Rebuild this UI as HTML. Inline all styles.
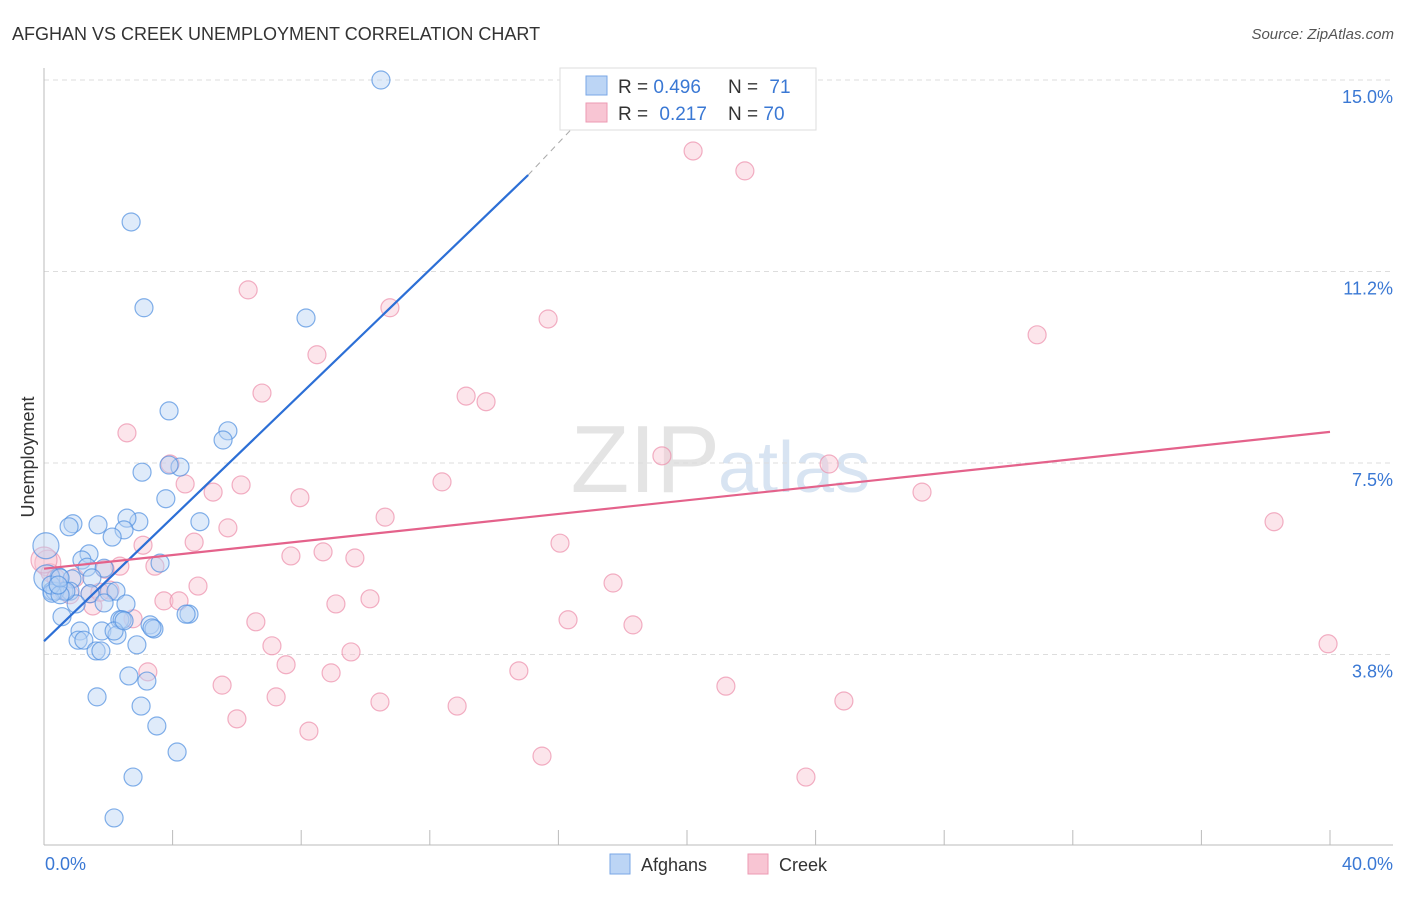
<!DOCTYPE html>
<html><head><meta charset="utf-8">
<style>
body{margin:0;background:#fff;font-family:"Liberation Sans",sans-serif;}
svg text{font-family:"Liberation Sans",sans-serif;}
</style></head>
<body>
<svg id="chart" width="1406" height="892" xmlns="http://www.w3.org/2000/svg">
<text x="12" y="40" font-size="18" fill="#333">AFGHAN VS CREEK UNEMPLOYMENT CORRELATION CHART</text>
<text x="1394" y="39" font-size="15" fill="#555" font-style="italic" text-anchor="end">Source: ZipAtlas.com</text>
<text x="720" y="492" font-size="96" fill="#e4e4e4" text-anchor="end" font-family="Liberation Serif">ZIP</text>
<text x="718" y="492" font-size="72" fill="#d8e4f2">atlas</text>
<g id="grid"></g>
<g id="axes"></g>
<g id="pts"></g>
<g id="lines"></g>
<text transform="translate(34,457) rotate(-90)" font-size="18" fill="#333" text-anchor="middle">Unemployment</text>
<text x="45" y="870" font-size="18" fill="#3a78d4">0.0%</text>
<text x="1393" y="870" font-size="18" fill="#3a78d4" text-anchor="end">40.0%</text>
<g>
<rect x="560" y="68" width="256" height="62" fill="#fff" stroke="#ddd"/>
<rect x="586" y="76" width="21" height="19" fill="#bcd5f5" stroke="#7aa7e6"/>
<rect x="586" y="103" width="21" height="19" fill="#f8c5d3" stroke="#ec9ab3"/>
<text x="618" y="93" font-size="19" fill="#333">R = <tspan fill="#3a78d4">0.496</tspan></text>
<text x="728" y="93" font-size="19" fill="#333">N = <tspan fill="#3a78d4" dx="6">71</tspan></text>
<text x="618" y="120" font-size="19" fill="#333">R = <tspan fill="#3a78d4" dx="6">0.217</tspan></text>
<text x="728" y="120" font-size="19" fill="#333">N = <tspan fill="#3a78d4">70</tspan></text>
</g>
<g>
<rect x="610" y="854" width="20" height="20" fill="#bcd5f5" stroke="#7aa7e6"/>
<text x="641" y="871" font-size="18" fill="#333">Afghans</text>
<rect x="748" y="854" width="20" height="20" fill="#f8c5d3" stroke="#ec9ab3"/>
<text x="779" y="871" font-size="18" fill="#333">Creek</text>
</g>
</svg>
<script>
const yTicks=[3.75,7.5,11.25,15];
const yTickLabels=["3.8%","7.5%","11.2%","15.0%"];
const xTicks=[0,4,8,12,16,20,24,28,32,36,40];
const afghanX=[10.48,2.71,3.11,8.15,3.89,5.72,5.57,4.23,3.89,3.05,3.79,4.85,2.95,0.90,1.68,0.78,2.58,2.49,2.12,0.06,1.40,1.18,3.61,1.34,1.87,0.47,1.49,0.09,0.87,0.25,0.62,0.81,2.02,2.24,1.43,1.87,2.55,1.00,0.56,4.51,4.42,2.36,3.30,3.42,3.36,2.43,1.12,1.80,2.27,1.06,1.24,2.89,1.62,1.77,1.65,2.64,3.20,3.02,3.51,4.14,2.77,2.18,0.34,0.68,0.25,0.22,0.50,2.18,2.49,0.50,0.44];
const afghanY=[15.0,12.22,10.54,10.34,8.52,8.13,7.95,7.42,7.46,7.32,6.80,6.35,6.35,6.31,6.29,6.25,6.42,6.19,6.05,5.88,5.72,5.60,5.54,5.46,5.44,5.27,5.25,5.25,5.23,4.99,4.99,4.99,4.97,4.99,4.94,4.76,4.74,4.74,4.49,4.54,4.54,4.43,4.33,4.25,4.27,4.43,4.21,4.21,4.13,4.03,4.03,3.94,3.82,3.82,2.92,3.33,3.23,2.74,2.35,1.84,1.35,0.55,4.99,4.99,4.95,5.11,4.92,4.21,4.41,5.25,5.11];
const creekX=[20.19,21.80,6.35,10.76,15.68,30.89,8.49,6.78,13.13,13.75,2.58,3.92,19.22,24.42,4.39,6.13,12.38,5.26,7.96,27.31,10.61,38.26,5.72,4.67,16.05,3.08,8.68,7.68,9.67,2.36,3.45,1.90,0.12,0.19,0.37,17.70,4.79,10.14,3.73,4.20,9.08,1.52,2.77,6.59,16.30,18.32,1.43,7.09,39.94,7.53,9.55,3.23,8.93,14.77,5.54,21.21,7.22,10.45,24.88,12.85,6.00,8.24,15.49,23.70,0.50,0.96,2.05,0.81,0.0,1.74];
const creekY=[13.61,13.22,10.89,10.54,10.32,10.01,9.62,8.87,8.81,8.70,8.09,7.48,7.64,7.48,7.09,7.07,7.13,6.93,6.82,6.93,6.44,6.35,6.23,5.95,5.93,5.89,5.76,5.68,5.64,5.48,5.48,5.42,5.54,5.35,5.25,5.15,5.09,4.84,4.80,4.80,4.74,4.70,4.45,4.39,4.43,4.33,4.94,3.92,3.96,3.55,3.80,3.41,3.39,3.43,3.15,3.13,2.92,2.82,2.84,2.74,2.49,2.25,1.76,1.35,5.01,5.25,5.01,4.92,5.60,4.97];
const afghanTrend=[[0,4.01],[15.06,13.14]];
const afghanTrendExt=[[15.06,13.14],[17.4,14.7]];
const creekTrend=[[0,5.43],[40,8.11]];

const NS="http://www.w3.org/2000/svg";
const X0=44,X1=1330,Y0=846,Y1=80;
function sx(v){return X0+(v-0)/(40-0)*(X1-X0);}
function sy(v){return Y0-(v-0)/(15-0)*(Y0-Y1);}
function mk(tag,attrs,parent){const e=document.createElementNS(NS,tag);for(const k in attrs)e.setAttribute(k,attrs[k]);parent.appendChild(e);return e;}
const grid=document.getElementById('grid'),axes=document.getElementById('axes'),pts=document.getElementById('pts'),lines=document.getElementById('lines');
yTicks.forEach((t,i)=>{
  const l=mk('line',{x1:X0,x2:1393,y1:sy(t),y2:sy(t),stroke:'#ddd','stroke-dasharray':'5,4'},grid);
  
  
  const tx=mk('text',{x:1393,y:sy(t)+23,'font-size':18,fill:'#3a78d4','text-anchor':'end'},grid);
  tx.textContent=yTickLabels[i];
  
  
});
const ax=mk('line',{x1:X0,x2:1393,y1:845,y2:845,stroke:'#bbb'},axes);


const ay=mk('line',{x1:X0,x2:X0,y1:68,y2:845,stroke:'#bbb'},axes);


xTicks.forEach(t=>{
  const l=mk('line',{x1:sx(t),x2:sx(t),y1:830,y2:845,stroke:'#bbb'},axes);
  
  
});
function dots(xs,ys,fill,stroke,name){
  xs.forEach((x,i)=>{
    const r=(x<0.15)?13:9;
    const c=mk('circle',{cx:sx(x),cy:sy(ys[i]),r:r,fill:fill,'fill-opacity':0.45,stroke:stroke,'stroke-opacity':0.7,'stroke-width':1.2},pts);
    
    
  });
}
dots(creekX,creekY,'#f8c5d3','#ec8fab','creek-point');
dots(afghanX,afghanY,'#b7d2f3','#4f8ee0','afghan-point');
function ln(p,stroke,w,dash,name){
  const a={x1:sx(p[0][0]),y1:sy(p[0][1]),x2:sx(p[1][0]),y2:sy(p[1][1]),stroke:stroke,'stroke-width':w};
  if(dash)a['stroke-dasharray']=dash;
  const l=mk('line',a,lines);
  
  
}
ln(afghanTrend,'#2c6fd6',2.2,null,'afghan-trend-line');
ln(afghanTrendExt,'#aaa',1,'6,5','afghan-trend-extension');
ln(creekTrend,'#e4628b',2.2,null,'creek-trend-line');
</script>
</body></html>
